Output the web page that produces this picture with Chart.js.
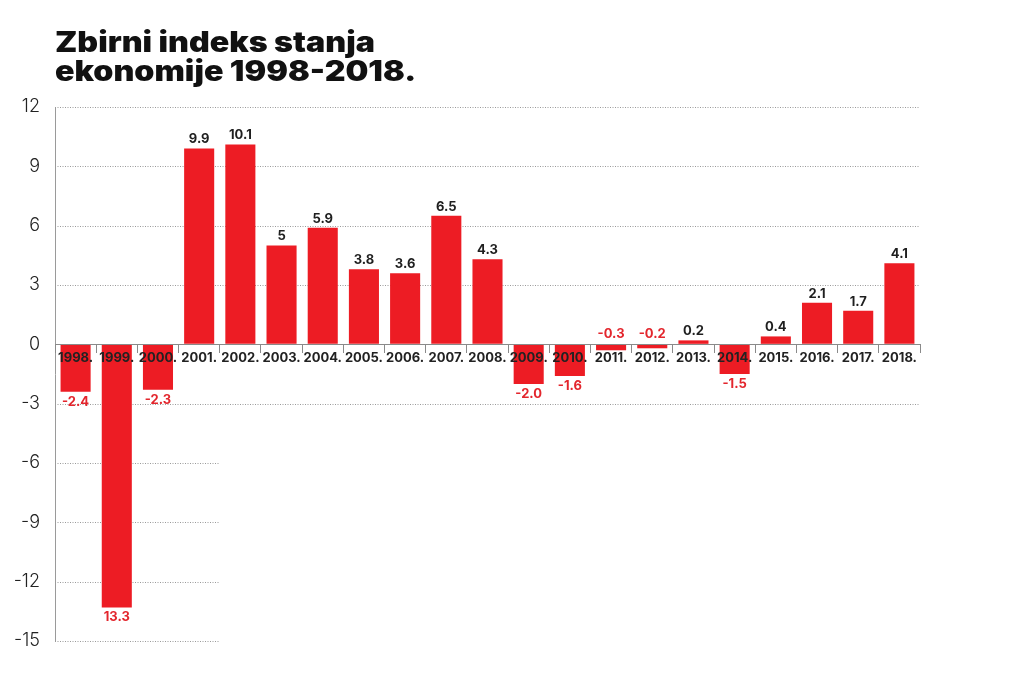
<!DOCTYPE html>
<html>
<head>
<meta charset="utf-8">
<script src="https://cdn.jsdelivr.net/npm/chart.js@4.4.1/dist/chart.umd.min.js"></script>
<style>
    html, body { margin: 0; padding: 0; background: #fff; }
    #wrap { position: relative; width: 1024px; height: 692px; }
    #title {
        position: absolute; left: 55px; top: 28px;
        font-family: Inter, Roboto, "Liberation Sans", sans-serif;
        font-weight: 900; font-size: 28px; line-height: 28.5px;
        color: #111; transform: scaleX(1.15); transform-origin: 0 0;
        white-space: nowrap;
    }
    canvas { position: absolute; left: 0; top: 0; }
</style>
</head>
<body>
<div id="wrap">
    <canvas id="chart" width="1024" height="692"></canvas>
    <div id="title">Zbirni indeks stanja<br>ekonomije 1998-2018.</div>
</div>
<script>
// Data
const years = ['1998.', '1999.', '2000.', '2001.', '2002.', '2003.', '2004.', '2005.', '2006.', '2007.', '2008.',
    '2009.', '2010.', '2011.', '2012.', '2013.', '2014.', '2015.', '2016.', '2017.', '2018.'];
const values = [-2.4, -13.3, -2.3, 9.9, 10.1, 5, 5.9, 3.8, 3.6, 6.5, 4.3,
    -2.0, -1.6, -0.3, -0.2, 0.2, -1.5, 0.4, 2.1, 1.7, 4.1];
const valueLabels = ['-2.4', '13.3', '-2.3', '9.9', '10.1', '5', '5.9', '3.8', '3.6', '6.5', '4.3',
    '-2.0', '-1.6', '-0.3', '-0.2', '0.2', '-1.5', '0.4', '2.1', '1.7', '4.1'];
const yMin = -15;
const yMax = 12;
const yStep = 3;

const RED = '#ed1c24';
const FONT = 'Inter, Roboto, "Liberation Sans", sans-serif';

// dotted gridlines, the lower ones stop after 2001.
const gridPlugin = {
    id: 'dottedGrid',
    beforeDatasetsDraw(chart) {
        const { ctx, chartArea, scales } = chart;
        const x = scales.x, y = scales.y;
        const shortEnd = (x.getPixelForValue(3) + x.getPixelForValue(4)) / 2;
        ctx.save();
        ctx.strokeStyle = '#9a9a9a';
        ctx.lineWidth = 1;
        ctx.setLineDash([1, 1.5]);
        y.ticks.forEach(t => {
            if (t.value === 0) return;
            const py = Math.round(y.getPixelForValue(t.value)) + 0.5;
            const end = t.value >= -3 ? chartArea.right : shortEnd;
            ctx.beginPath();
            ctx.moveTo(chartArea.left, py);
            ctx.lineTo(end, py);
            ctx.stroke();
        });
        ctx.restore();
    }
};

// value labels above / below the bars
const labelPlugin = {
    id: 'valueLabels',
    afterDraw(chart) {
        const { ctx } = chart;
        const meta = chart.getDatasetMeta(0);
        const zeroY = chart.scales.y.getPixelForValue(0);
        ctx.save();
        ctx.font = 'bold 13px ' + FONT;
        ctx.textAlign = 'center';
        ctx.textBaseline = 'middle';
        meta.data.forEach((bar, i) => {
            const v = values[i];
            if (v >= 0) {
                ctx.fillStyle = '#1f1f1f';
                ctx.fillText(valueLabels[i], bar.x, bar.y - 9);
            } else if (v > -1) {
                ctx.fillStyle = '#e3262d';
                ctx.fillText(valueLabels[i], bar.x, zeroY - 10);
            } else {
                ctx.fillStyle = '#e3262d';
                ctx.fillText(valueLabels[i], bar.x, bar.y + 10);
            }
        });
        ctx.restore();
    }
};

const ctx = document.getElementById('chart').getContext('2d');
new Chart(ctx, {
    type: 'bar',
    data: {
        labels: years,
        datasets: [{
            data: values,
            backgroundColor: RED,
            borderWidth: 0,
            barPercentage: 0.73,
            categoryPercentage: 1
        }]
    },
    options: {
        responsive: false,
        animation: false,
        layout: { padding: { left: 0, right: 104, top: 107, bottom: 51 } },
        plugins: {
            legend: { display: false },
            tooltip: { enabled: false }
        },
        scales: {
            x: {
                position: { y: 0 },
                offset: true,
                grid: {
                    offset: true,
                    drawOnChartArea: false,
                    drawTicks: true,
                    tickLength: 8,
                    color: '#8a8a8a',
                    z: 1
                },
                border: { display: true, color: '#8a8a8a', width: 1, z: 1 },
                ticks: {
                    z: 2,
                    color: '#222',
                    font: { family: FONT, size: 13, weight: 'bold' },
                    padding: -2,
                    maxRotation: 0,
                    autoSkip: false
                }
            },
            y: {
                min: yMin,
                max: yMax,
                afterFit: (scale) => { scale.width = 55; },
                grid: { drawOnChartArea: false, drawTicks: false },
                border: { display: true, color: '#9a9a9a', dash: [1, 1.5] },
                ticks: {
                    stepSize: yStep,
                    color: '#222',
                    padding: 15,
                    font: { family: FONT, size: 18, weight: 300 }
                }
            }
        }
    },
    plugins: [gridPlugin, labelPlugin]
});
</script>
</body>
</html>
